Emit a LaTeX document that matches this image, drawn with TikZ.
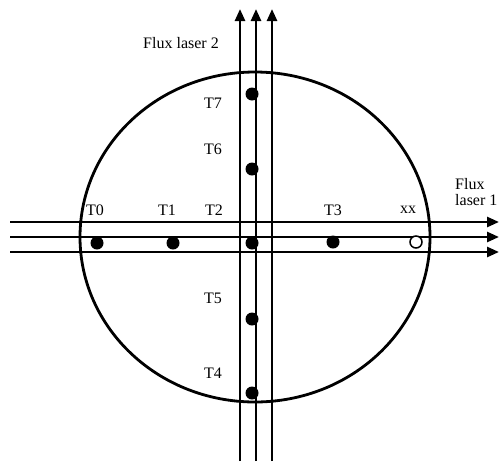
\documentclass[tikz,border=0pt]{standalone}
\usepackage{fontspec}
\setmainfont{Liberation Serif}
\usetikzlibrary{arrows.meta,positioning}

\begin{document}
\begin{tikzpicture}[
    x=1pt, y=-1pt,
    font=\fontsize{16}{16}\selectfont,
    beam/.style={line width=2.6pt},
    arrow/.style={beam, -{Triangle[length=12pt,width=10pt]}},
    target/.style={circle, fill=black, inner sep=0pt, minimum size=13pt},
    empty/.style={circle, draw, line width=1.5pt, fill=white, inner sep=0pt, minimum size=12pt},
    lbl/.style={inner sep=0pt}
]
    \useasboundingbox (0,0) rectangle (502,461);

    % chambre
    \draw[line width=2.8pt] (255,237) ellipse (175 and 165);

    % flux laser 1 (horizontal)
    \foreach \y/\n in {222/a, 237/b, 252/c} {
        \coordinate (h\n1) at (10,\y);
        \coordinate (h\n2) at (499,\y);
        \draw[arrow] (h\n1) -- (h\n2);
    }

    % flux laser 2 (vertical)
    \foreach \x/\n in {240/a, 256/b, 272/c} {
        \coordinate (v\n1) at (\x,461);
        \coordinate (v\n2) at (\x,9);
        \draw[arrow] (v\n1) -- (v\n2);
    }

    % cibles
    \node[target] (t0) at (97,243) {};
    \node[target] (t1) at (173,243) {};
    \node[target] (t2) at (252,243) {};
    \node[target] (t3) at (333,242) {};
    \node[empty] (xx) at (416,242) {};
    \node[target] (t7) at (252,94) {};
    \node[target] (t6) at (252,169) {};
    \node[target] (t5) at (252,319) {};
    \node[target] (t4) at (252,393) {};

    % labels
    \node[lbl] at (95,210) {T0};
    \node[lbl] at (167,210) {T1};
    \node[lbl] at (214,210) {T2};
    \node[lbl] at (333,210) {T3};
    \node[lbl] at (408,210) {xx};
    \node[lbl] at (213,103) {T7};
    \node[lbl] at (213,149) {T6};
    \node[lbl] at (213,298) {T5};
    \node[lbl] at (213,373) {T4};
    \node[lbl] at (181,43) {Flux laser 2};
    \node[lbl, align=left, anchor=west] at (455,192) {Flux\\laser 1};
\end{tikzpicture}
\end{document}
